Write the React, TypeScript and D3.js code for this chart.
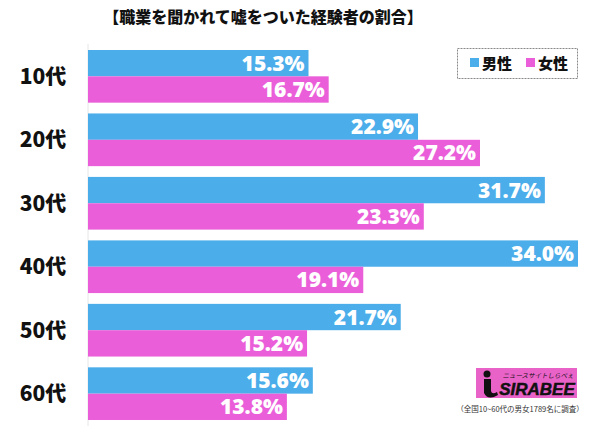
import React from "react";
import * as d3 from "d3";

const categories = ["10代", "20代", "30代", "40代", "50代", "60代"];
const maleValues = [15.3, 22.9, 31.7, 34.0, 21.7, 15.6];
const femaleValues = [16.7, 27.2, 23.3, 19.1, 15.2, 13.8];
const seriesNames = ["男性", "女性"];
const title = "【職業を聞かれて嘘をついた経験者の割合】";
const caption = "（全国10~60代の男女1789名に調査）";

const W = 600;
const H = 426;
const BLUE = "#4badea";
const PINK = "#ea5fd9";
const CJK = "'Noto Sans CJK JP', 'Noto Sans', sans-serif";
const NUM = "'Open Sans', 'Liberation Sans', sans-serif";

export default function App() {
  const x = d3.scaleLinear().domain([0, 34]).range([88, 578]);
  const y = d3
    .scaleBand<string>()
    .domain(categories)
    .range([44.6, 425.4])
    .paddingInner(0.17)
    .paddingOuter(0.085);
  const sub = d3
    .scaleBand<string>()
    .domain(seriesNames)
    .range([0, y.bandwidth()]);
  const colors = [BLUE, PINK];
  const series = [maleValues, femaleValues];

  return (
    <svg
      width={W}
      height={H}
      style={{ position: "absolute", left: 0, top: 0, display: "block", background: "#fff" }}
    >
      <rect x={0} y={0} width={W} height={H} fill="#fff" />
      <text
        x={263}
        y={23}
        textAnchor="middle"
        fontFamily={CJK}
        fontWeight={900}
        fontSize={16}
        fill="#111"
      >
        {title}
      </text>
      <line x1={x(0)} x2={x(0)} y1={44} y2={426} stroke="#e6e6e6" strokeWidth={1} />
      {categories.map((c, i) => (
        <g key={c}>
          <text
            x={43}
            y={(y(c) as number) + y.bandwidth() / 2 + 7.5}
            textAnchor="middle"
            fontFamily={CJK}
            fontWeight={900}
            fontSize={21}
            fill="#111"
          >
            {c}
          </text>
          {series.map((vals, k) => {
            const by = (y(c) as number) + (sub(seriesNames[k]) as number);
            const bh = sub.bandwidth();
            return (
              <g key={k}>
                <rect
                  x={x(0)}
                  y={by}
                  width={x(vals[i]) - x(0)}
                  height={bh}
                  fill={colors[k]}
                />
                <text
                  x={x(vals[i]) - 4}
                  y={by + bh / 2 + 7.5}
                  textAnchor="end"
                  fontFamily={NUM}
                  fontWeight={800}
                  fontSize={21}
                  fill="#fff"
                >
                  {vals[i].toFixed(1)}%
                </text>
              </g>
            );
          })}
        </g>
      ))}
      <g>
        <rect
          x={457.5}
          y={48.5}
          width={120}
          height={30}
          fill="#fff"
          stroke="#888"
          strokeDasharray="2,1"
          strokeWidth={1}
        />
        {seriesNames.map((s, k) => (
          <g key={s} transform={`translate(${470 + k * 56},0)`}>
            <rect x={0} y={58} width={9} height={9} fill={colors[k]} />
            <text x={12} y={69} fontFamily={CJK} fontWeight={900} fontSize={15} fill="#111">
              {s}
            </text>
          </g>
        ))}
      </g>
      <g>
        <rect x={476} y={368} width={101} height={30} fill="#e962c8" />
        <circle cx={487} cy={374} r={3.5} fill="#111" />
        <path d="M484 379 L491 379 L491 391 Q492 395 497 392 L498 395 Q488 401 484 393 Z" fill="#111" />
        <text
          x={538}
          y={378}
          textAnchor="middle"
          fontFamily={CJK}
          fontStyle="italic"
          fontSize={6.5}
          fill="#111"
        >
          ニュースサイトしらべぇ
        </text>
        <text
          x={537}
          y={395}
          textAnchor="middle"
          fontFamily="'Liberation Sans', sans-serif"
          fontWeight={900}
          fontStyle="italic"
          fontSize={17}
          fill="#111"
          stroke="#111"
          strokeWidth={0.5}
        >
          SIRABEE
        </text>
      </g>
      <text
        x={520}
        y={412}
        textAnchor="middle"
        fontFamily={CJK}
        fontSize={7.5}
        fill="#333"
      >
        {caption}
      </text>
    </svg>
  );
}
